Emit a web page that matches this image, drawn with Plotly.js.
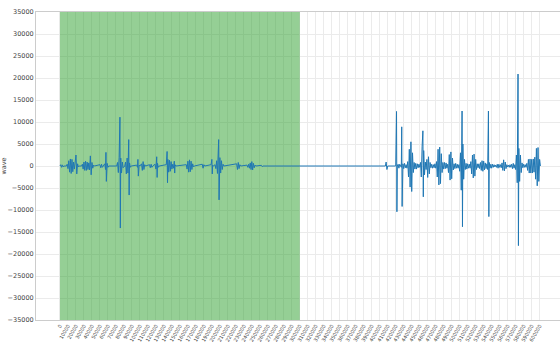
<!DOCTYPE html>
<html>
<head>
<meta charset="utf-8">
<script src="https://cdn.plot.ly/plotly-3.0.1.min.js"></script>
<style>html,body{margin:0;padding:0;background:#fff}#chart{width:560px;height:342px}</style>
</head>
<body>
<div id="chart"></div>
<script>
// Waveform as [sample index, amplitude] pairs (left half: highlighted segment)
const wave_left = [
[0,0],[1000,300],[2000,-300],[3000,250],[4000,-200],[5000,0],
[8000,0],[9000,400],[10000,-600],[11000,1200],[12000,-1400],[13000,1600],[14000,-1700],[15000,1500],[16000,-1300],[17000,900],[18000,-700],[19000,600],[20000,2500],[21000,-1800],[22000,500],[23000,-200],[24000,0],
[27000,0],[28000,400],[29000,-700],[30000,900],[31000,-1000],[32000,1100],[33000,-1000],[34000,900],[35000,-800],[36000,700],[37000,-900],[38000,2300],[39000,-2000],[40000,800],[41000,-500],[42000,200],[43000,0],
[50000,300],[51000,-400],[52000,400],[53000,-300],[54000,0],
[56000,500],[57000,-800],[57500,3100],[58000,-3500],[59000,600],[60000,-300],[61000,0],
[71000,0],[72000,800],[73000,-1500],[74000,1900],[75000,11100],[75500,-14100],[76000,1800],[77000,-1600],[78000,900],[79000,-400],[80000,0],
[81000,0],[82000,900],[83000,-1800],[84000,1800],[85000,-1600],[86000,6000],[86500,-6600],[87000,700],[88000,-300],[89000,0],
[96000,200],[97000,-300],[97500,1500],[98000,-2300],[99000,200],[100000,0],
[102000,500],[103000,-1000],[104000,1000],[105000,-800],[106000,300],[107000,0],
[112000,300],[113000,-400],[114000,400],[115000,-300],[116000,0],
[119000,400],[120000,-700],[121000,2100],[121500,-2600],[122000,600],[123000,-300],[124000,0],
[133000,300],[134000,3300],[134500,-3800],[135000,1500],[136000,-1400],[137000,1300],[138000,-1200],[139000,1000],[140000,-700],[141000,400],[142000,-500],[143000,1100],[143500,-1600],[144000,300],[145000,0],
[158000,300],[159000,-700],[160000,1100],[161000,-1400],[162000,1400],[163000,-1300],[164000,1100],[165000,-800],[166000,500],[167000,-200],[168000,0],
[178000,400],[179000,-500],[180000,300],[181000,0],
[189000,300],[190000,1500],[190500,-1800],[191000,200],[192000,0],
[194000,300],[195000,-600],[196000,1200],[197000,-1700],[198000,1900],[198500,6000],[199000,-7700],[200000,1900],[201000,-1600],[202000,1200],[203000,-800],[204000,400],[205000,0],
[221000,500],[222000,-800],[223000,800],[224000,-600],[225000,300],[226000,0],
[234000,200],[235000,-300],[236000,400],[237000,-500],[238000,700],[239000,-800],[240000,1000],[241000,-900],[242000,600],[243000,-400],[244000,200],[245000,0],
[252000,150],[253000,-150],[254000,0]
];
// Right half
const wave_right = [
[407000,0],[408000,900],[409000,-800],[410000,0],
[420000,0],[421000,12400],[421500,-10400],[422000,0],
[423000,400],[424000,-500],[425000,400],[427000,-300],[427500,8900],[428000,-9200],[429000,500],
[430000,-600],[431000,600],[432000,-400],[433000,300],
[434000,-500],[435000,1000],[436000,-2500],[437000,3800],[438000,-4800],[439000,5500],[440000,-5800],[441000,3000],[442000,-1500],[443000,800],
[444000,-700],[445000,600],[446000,-700],[447000,500],[448000,-400],[449000,400],[450000,-300],
[451000,800],[452000,-2500],[453000,4500],[454000,8000],[454500,-7000],[455000,3500],[456000,-2000],[457000,900],
[458000,-800],[459000,1500],[460000,-2600],[461000,2100],[462000,-1800],[463000,800],
[464000,-400],[465000,400],[466000,-500],[467000,300],[468000,-400],[469000,500],[470000,-500],
[471000,1000],[472000,-2500],[473000,3800],[474000,-4300],[475000,4300],[476000,-4000],[477000,2800],[478000,-1500],[479000,800],
[480000,-700],[481000,800],[482000,-600],[483000,700],[484000,-500],[485000,400],
[486000,-1500],[487000,2600],[488000,-3200],[489000,3200],[490000,-2900],[491000,1800],[492000,-900],
[493000,500],[494000,-600],[495000,600],[496000,-500],[497000,400],[498000,-500],[499000,300],
[500000,-1200],[501000,3000],[502000,-5500],[503000,12500],[503500,-13800],[504000,5000],[505000,-3000],[506000,1500],[507000,-800],
[508000,600],[509000,-700],[510000,500],[511000,-500],[512000,400],
[513000,-500],[514000,1000],[515000,-1800],[516000,2500],[517000,-2700],[518000,2700],[519000,-2300],[520000,1500],[521000,-800],[522000,500],
[523000,-400],[524000,500],[525000,-600],[526000,800],[527000,-1000],[528000,1200],[529000,-1200],[530000,1100],[531000,-900],[532000,700],
[533000,-600],[534000,500],[535000,-800],[536000,12500],[536500,-11500],[537000,800],[538000,-500],
[539000,400],[540000,-500],[541000,400],[542000,-300],[543000,300],
[544000,-200],[545000,200],[546000,-300],[547000,400],[548000,-500],[549000,400],[550000,-300],
[551000,300],[552000,-400],[553000,700],[554000,-1000],[555000,1400],[556000,-1100],[557000,900],[558000,-600],[559000,300],
[560000,-200],[561000,200],[562000,-300],[563000,300],[564000,-300],[565000,400],[566000,-600],[567000,600],[568000,-500],[569000,300],
[570000,-800],[571000,2500],[572000,-3800],[573000,20900],[573500,-18100],[574000,4000],[575000,-3500],[576000,2500],[577000,-1500],[578000,700],
[579000,-400],[580000,400],[581000,-300],[582000,300],[583000,-300],
[584000,600],[585000,-1000],[586000,1500],[587000,-1600],[588000,1600],[589000,-1600],[590000,1500],[591000,-1600],[592000,1600],[593000,-1400],
[594000,2000],[595000,-3000],[596000,4000],[597000,-4500],[598000,4200],[599000,-3500],[600000,1500],[601000,0]
];
const highlight_start = 0;
const highlight_end = 300000;
const y_min = -35000;
const y_max = 35000;
const x_ticks = [];
for (let v = 0; v <= 600000; v += 10000) x_ticks.push(v);

const pts = wave_left.concat(wave_right);
const trace = {
  x: pts.map(p => p[0]),
  y: pts.map(p => p[1]),
  type: 'scatter', mode: 'lines',
  line: {color: '#1f77b4', width: 1},
  hoverinfo: 'skip', showlegend: false
};
const fontFam = 'DejaVu Sans, sans-serif';
const layout = {
  width: 560, height: 342,
  margin: {l: 36, r: 0, t: 12, b: 22, pad: 0},
  paper_bgcolor: '#fff', plot_bgcolor: '#fff',
  font: {family: fontFam, size: 6, color: '#444'},
  xaxis: {
    range: [-30000, 625500], tickvals: x_ticks, ticktext: x_ticks.map(String),
    tickangle: -60, tickfont: {size: 5, color: '#444'},
    showgrid: true, gridcolor: '#ebebeb', gridwidth: 1,
    zeroline: false, showline: true, linecolor: '#cccccc', linewidth: 1, mirror: true,
    ticks: '', automargin: false
  },
  yaxis: {
    range: [y_min, y_max], dtick: 5000, tick0: 0, tickformat: 'd',
    tickfont: {size: 6.5, color: '#444'},
    showgrid: true, gridcolor: '#ebebeb', gridwidth: 1,
    zeroline: false, showline: true, linecolor: '#cccccc', linewidth: 1, mirror: true,
    ticks: '', automargin: false,
    title: {text: 'wave', font: {size: 6.5, color: '#444'}, standoff: 4}
  },
  shapes: [{
    type: 'rect', xref: 'x', yref: 'y', layer: 'between',
    x0: highlight_start, x1: highlight_end, y0: y_min, y1: y_max,
    fillcolor: 'rgba(44,160,44,0.5)', line: {width: 0}
  }]
};
Plotly.newPlot('chart', [trace], layout, {staticPlot: true, displayModeBar: false});
</script>
</body>
</html>
